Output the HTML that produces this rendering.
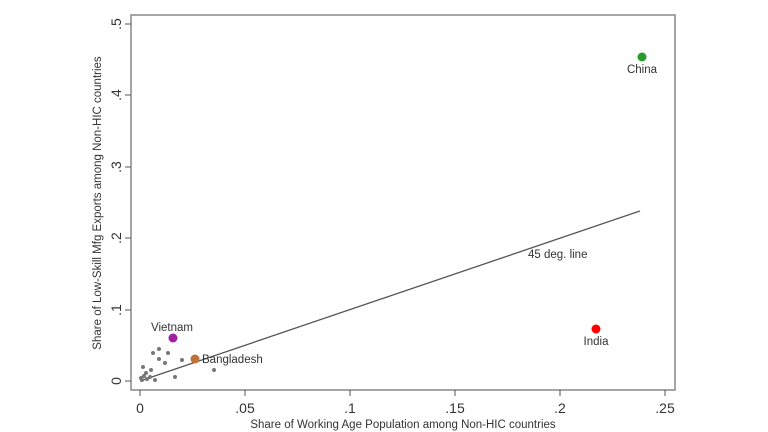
<!DOCTYPE html><html><head><style>body{margin:0;background:#fff}svg{display:block}text{font-family:"Liberation Sans",sans-serif;fill:#333}</style></head><body>
<svg width="768" height="432" viewBox="0 0 768 432">
<rect x="131" y="15" width="544" height="375" fill="none" stroke="#888" stroke-width="1.5"/>
<g stroke="#555" stroke-width="1">
<line x1="125" y1="381" x2="131" y2="381"/><line x1="125" y1="310" x2="131" y2="310"/><line x1="125" y1="238" x2="131" y2="238"/><line x1="125" y1="167" x2="131" y2="167"/><line x1="125" y1="95" x2="131" y2="95"/><line x1="125" y1="24" x2="131" y2="24"/>
<line x1="140" y1="390" x2="140" y2="396"/><line x1="245" y1="390" x2="245" y2="396"/><line x1="350" y1="390" x2="350" y2="396"/><line x1="455" y1="390" x2="455" y2="396"/><line x1="560" y1="390" x2="560" y2="396"/><line x1="665" y1="390" x2="665" y2="396"/>
</g>
<g font-size="14" text-anchor="middle">
<text transform="translate(121,381) rotate(-90)">0</text><text transform="translate(121,310) rotate(-90)">.1</text><text transform="translate(121,238) rotate(-90)">.2</text><text transform="translate(121,167) rotate(-90)">.3</text><text transform="translate(121,95) rotate(-90)">.4</text><text transform="translate(121,24) rotate(-90)">.5</text>
<text x="140" y="413">0</text><text x="245" y="413">.05</text><text x="350" y="413">.1</text><text x="455" y="413">.15</text><text x="560" y="413">.2</text><text x="665" y="413">.25</text>
</g>
<text x="403" y="428" font-size="11.5" text-anchor="middle">Share of Working Age Population among Non-HIC countries</text>
<text transform="translate(101,203) rotate(-90)" font-size="11.5" text-anchor="middle">Share of Low-Skill Mfg Exports among Non-HIC countries</text>
<line x1="140" y1="381" x2="640" y2="211" stroke="#555" stroke-width="1.3"/>
<text x="528" y="258" font-size="11.5">45 deg. line</text>
<g fill="#777">
<circle cx="153" cy="353" r="2"/><circle cx="159" cy="349" r="2"/><circle cx="168" cy="353" r="2"/><circle cx="159" cy="359" r="2"/><circle cx="165" cy="363" r="2"/><circle cx="182" cy="360" r="2"/><circle cx="143" cy="367" r="2"/><circle cx="151" cy="370" r="2"/><circle cx="175" cy="377" r="2"/><circle cx="214" cy="370" r="2"/><circle cx="141" cy="378" r="2"/><circle cx="144" cy="376" r="2"/><circle cx="147" cy="379" r="2"/><circle cx="150" cy="377" r="2"/><circle cx="142" cy="380" r="2"/><circle cx="155" cy="380" r="2"/><circle cx="146" cy="373" r="2"/>
</g>
<circle cx="173" cy="338" r="4.5" fill="#a020a0"/><text x="151" y="331" font-size="11.5">Vietnam</text>
<circle cx="195" cy="359" r="4.5" fill="#c0703a"/><text x="202" y="363" font-size="11.5">Bangladesh</text>
<circle cx="642" cy="57" r="4.5" fill="#2a9a2a"/><text x="642" y="73" font-size="11.5" text-anchor="middle">China</text>
<circle cx="596" cy="329" r="4.5" fill="#f00"/><text x="596" y="345" font-size="11.5" text-anchor="middle">India</text>
</svg></body></html>
